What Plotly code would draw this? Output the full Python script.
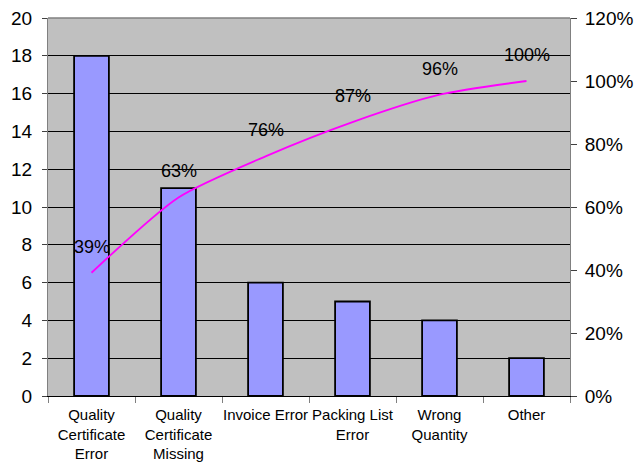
import plotly.graph_objects as go

# Pareto data: defect categories and their counts
categories = [
    "Quality<br>Certificate<br>Error",
    "Quality<br>Certificate<br>Missing",
    "Invoice Error",
    "Packing List<br>Error",
    "Wrong<br>Quantity",
    "Other",
]
counts = [18, 11, 6, 5, 4, 2]

total = sum(counts)
cumulative_pct = []
running = 0
for c in counts:
    running += c
    cumulative_pct.append(running / total)

left_ticks = list(range(0, 21, 2))
right_ticks = [0, 0.2, 0.4, 0.6, 0.8, 1.0, 1.2]

tick_font = dict(family="Liberation Sans, Arial, sans-serif", size=19, color="black")
cat_font = dict(family="Liberation Sans Narrow, Arial Narrow, Liberation Sans, sans-serif",
                size=15, color="black")

fig = go.Figure()

fig.add_trace(go.Bar(
    x=categories,
    y=counts,
    marker=dict(color="#9999FF", line=dict(color="black", width=1.8)),
    width=0.4,
    yaxis="y",
    showlegend=False,
))

fig.add_trace(go.Scatter(
    x=categories,
    y=cumulative_pct,
    mode="lines",
    line=dict(color="#FF00FF", width=1.8, shape="spline", smoothing=0.7),
    yaxis="y2",
    showlegend=False,
))

# Cumulative percentage labels above each point of the line
for cat, p in zip(categories, cumulative_pct):
    fig.add_annotation(
        x=cat, y=p, xref="x", yref="y2",
        text=f"{p * 100:.0f}%",
        showarrow=False,
        yshift=26,
        font=dict(family="Liberation Sans, Arial, sans-serif", size=18, color="black"),
    )

fig.update_layout(
    width=643,
    height=472,
    margin=dict(l=48, r=73, t=18, b=76),
    paper_bgcolor="white",
    plot_bgcolor="#C0C0C0",
    xaxis=dict(
        type="category",
        automargin=False,
        tickangle=0,
        showline=True,
        linecolor="black",
        linewidth=1,
        ticks="outside",
        tickson="boundaries",
        ticklen=6,
        tickcolor="#808080",
        tickfont=cat_font,
        ticklabelstandoff=5,
        showgrid=False,
    ),
    yaxis=dict(
        range=[0, 20],
        automargin=False,
        tickvals=left_ticks,
        showgrid=True,
        gridcolor="black",
        gridwidth=1,
        zeroline=False,
        showline=True,
        linecolor="#808080",
        linewidth=1,
        ticks="outside",
        ticklen=5,
        tickcolor="#404040",
        tickfont=tick_font,
        ticklabelstandoff=6,
    ),
    yaxis2=dict(
        range=[0, 1.2],
        automargin=False,
        tickvals=right_ticks,
        tickformat=".0%",
        overlaying="y",
        side="right",
        showgrid=False,
        zeroline=False,
        showline=True,
        linecolor="#808080",
        linewidth=1,
        ticks="outside",
        ticklen=6,
        tickcolor="#404040",
        tickfont=tick_font,
        ticklabelstandoff=4,
    ),
    shapes=[
        dict(type="line", xref="paper", yref="paper", x0=0, x1=1, y0=1, y1=1,
             line=dict(color="#808080", width=1.5)),
    ],
)

fig.write_html("out.html")
